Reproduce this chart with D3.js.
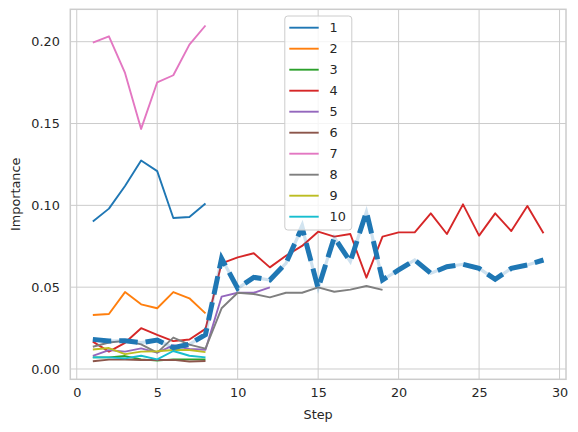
<!DOCTYPE html>
<html><head><meta charset="utf-8">
<script src="https://cdn.jsdelivr.net/npm/d3@7"></script>
<style>body{margin:0;background:#fff}text{font-family:"DejaVu Sans",sans-serif;fill:#262626}</style>
</head><body><svg id="c" width="578" height="432"></svg>
<script>
const s1 = [0.0901, 0.0980, 0.1118, 0.1274, 0.1209, 0.0923, 0.0929, 0.1011];
const s2 = [0.0330, 0.0336, 0.0470, 0.0395, 0.0371, 0.0470, 0.0432, 0.0340];
const s3 = [0.0071, 0.0071, 0.0079, 0.0059, 0.0051, 0.0059, 0.0059, 0.0059];
const s4 = [0.0167, 0.0106, 0.0160, 0.0249, 0.0208, 0.0170, 0.0180, 0.0245,
  0.0646, 0.0682, 0.0707, 0.0621, 0.0692, 0.0752, 0.0839, 0.0809, 0.0825, 0.0558,
  0.0809, 0.0835, 0.0835, 0.0951, 0.0825, 0.1006, 0.0815, 0.0951, 0.0843, 0.0996, 0.0829];
const s5 = [0.0080, 0.0115, 0.0106, 0.0126, 0.0100, 0.0145, 0.0122, 0.0118,
  0.0442, 0.0466, 0.0466, 0.0499];
const s6 = [0.0047, 0.0057, 0.0058, 0.0055, 0.0055, 0.0056, 0.0046, 0.0049];
const s7 = [0.1994, 0.2033, 0.1809, 0.1467, 0.1752, 0.1795, 0.1982, 0.2099];
const s8 = [0.0136, 0.0162, 0.0172, 0.0150, 0.0100, 0.0192, 0.0149, 0.0124,
  0.0371, 0.0466, 0.0458, 0.0438, 0.0466, 0.0466, 0.0499, 0.0472, 0.0485, 0.0507, 0.0483];
const s9 = [0.0119, 0.0128, 0.0091, 0.0106, 0.0108, 0.0116, 0.0116, 0.0103];
const s10 = [0.0071, 0.0071, 0.0065, 0.0081, 0.0059, 0.0110, 0.0081, 0.0071];
const meanLine = [0.0181, 0.0171, 0.0173, 0.0161, 0.0177, 0.0130, 0.0151, 0.0210,
  0.0676, 0.0493, 0.0560, 0.0544, 0.0646, 0.0866, 0.0493, 0.0804, 0.0656, 0.0961,
  0.0544, 0.0605, 0.0666, 0.0585, 0.0625, 0.0640, 0.0615, 0.0548, 0.0615, 0.0636, 0.0666];
const seriesNames = ["1","2","3","4","5","6","7","8","9","10"];
const seriesValues = [s1,s2,s3,s4,s5,s6,s7,s8,s9,s10];
const colors = ["#1f77b4","#ff7f0e","#2ca02c","#d62728","#9467bd","#8c564b","#e377c2","#7f7f7f","#bcbd22","#17becf"];
const xTicks = [0,5,10,15,20,25,30];
const yTicks = [0,0.05,0.10,0.15,0.20];

const FS = "12.8px";
const svg = d3.select("#c");
const L = 70.3, R = 566, T = 9.3, B = 379.3;
const x = d3.scaleLinear().domain([-0.4, 30.4]).range([L, R]);
const y = d3.scaleLinear().domain([-0.0063, 0.2198]).range([B, T]);

// grid
const g = svg.append("g");
g.selectAll(".vx").data(xTicks).join("line")
  .attr("x1", d => x(d)).attr("x2", d => x(d)).attr("y1", T).attr("y2", B)
  .attr("stroke", "#cccccc").attr("stroke-width", 1);
g.selectAll(".hy").data(yTicks).join("line")
  .attr("y1", d => y(d)).attr("y2", d => y(d)).attr("x1", L).attr("x2", R)
  .attr("stroke", "#cccccc").attr("stroke-width", 1);

// axes
const xAxis = d3.axisBottom(x).tickValues(xTicks).tickFormat(d3.format("d")).tickSize(0).tickPadding(9);
const yAxis = d3.axisLeft(y).tickValues(yTicks).tickFormat(d3.format(".2f")).tickSize(0).tickPadding(10.5);
const xa = svg.append("g").attr("transform", `translate(0,${B})`).call(xAxis);
const ya = svg.append("g").attr("transform", `translate(${L},0)`).call(yAxis);
[xa, ya].forEach(a => {
  a.select(".domain").remove();
  a.selectAll("text").style("font-size", FS).style("font-family", "DejaVu Sans").attr("fill", "#262626");
});

// frame
svg.append("rect").attr("x", L).attr("y", T).attr("width", R - L).attr("height", B - T)
  .attr("fill", "none").attr("stroke", "#cccccc").attr("stroke-width", 1.5);

// lines
const line = d3.line().x((d, i) => x(i + 1)).y(d => y(d));
seriesValues.forEach((vals, k) => {
  svg.append("path").datum(vals).attr("d", line).attr("fill", "none")
    .attr("stroke", colors[k]).attr("stroke-width", 1.9).attr("stroke-linejoin", "round");
});
svg.append("path").datum(meanLine).attr("d", line).attr("fill", "none")
  .attr("stroke", "#1f77b4").attr("stroke-opacity", 0.22).attr("stroke-width", 3.2);
svg.append("path").datum(meanLine).attr("d", line).attr("fill", "none")
  .attr("stroke", "#1f77b4").attr("stroke-width", 5).attr("stroke-dasharray", "18.5,8");

// axis labels
svg.append("text").attr("x", (L + R) / 2).attr("y", 419).attr("text-anchor", "middle")
  .style("font-size", FS).text("Step");
svg.append("text").attr("transform", `translate(20,${(T + B) / 2}) rotate(-90)`).attr("text-anchor", "middle")
  .style("font-size", FS).text("Importance");

// legend
const lg = svg.append("g");
lg.append("rect").attr("x", 284.8).attr("y", 16).attr("width", 67).attr("height", 214).attr("rx", 3)
  .attr("fill", "#ffffff").attr("fill-opacity", 0.8).attr("stroke", "#cccccc").attr("stroke-width", 1);
seriesNames.forEach((n, i) => {
  const yy = 27.7 + i * 21;
  lg.append("line").attr("x1", 289.3).attr("x2", 318.7).attr("y1", yy).attr("y2", yy)
    .attr("stroke", colors[i]).attr("stroke-width", 1.9);
  lg.append("text").attr("x", 329.5).attr("y", yy).attr("dy", "0.35em")
    .style("font-size", FS).text(n);
});
</script></body></html>
